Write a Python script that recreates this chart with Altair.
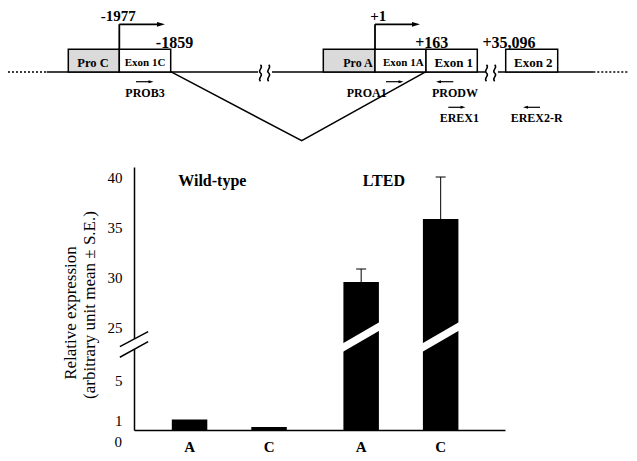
import altair as alt
import pandas as pd

# ------------------------------------------------------------------
# Bar chart data (relative expression, arbitrary units)
# ------------------------------------------------------------------
groups = ["Wild-type", "Wild-type", "LTED", "LTED"]
promoters = ["A", "C", "A", "C"]
expression = [1.05, 0.3, 29.5, 35.8]
se_upper = [0.0, 0.0, 1.3, 4.2]
group_order = ["Wild-type", "LTED"]
promoter_order = ["A", "C"]
y_tick_values = [1, 5, 25, 30, 35, 40]
y_top_value = 41.0

# broken y axis: values between BREAK_FROM and BREAK_FROM+AXIS_GAP are cut out
BREAK_FROM = 8.0
AXIS_GAP = 14.7
BAR_BREAK_AT = 24.0      # where the white slash crosses the tall bars (original units)
AXIS_BREAK_AT = 23.27    # where the // marks cross the y axis (original units)
GROUP_LABEL_AT = 39.6


def shown(v):
    return v if v <= BREAK_FROM else v - AXIS_GAP


bars_df = pd.DataFrame({
    "group": groups,
    "promoter": promoters,
    "value": expression,
    "top_d": [shown(v) for v in expression],
    "err_d": [shown(v + s) for v, s in zip(expression, se_upper)],
    "se": se_upper,
})
err_df = bars_df[bars_df["se"] > 0]
brk_df = bars_df[bars_df["value"] > BREAK_FROM].assign(brk=shown(BAR_BREAK_AT))
glab_df = pd.DataFrame({"group": group_order, "ly": [shown(GROUP_LABEL_AT)] * 2})
axbrk_df = pd.DataFrame({"ab": [shown(AXIS_BREAK_AT)]})

# ------------------------------------------------------------------
# Gene schematic (layout units)
# ------------------------------------------------------------------
MAIN_Y = 64.0
BOX_TOP = 41.3
seg_solid_x1 = [38.7, 264.0, 490.0]
seg_solid_x2 = [250.0, 477.0, 585.3]
seg_dot_x1 = [0.0, 585.3]
seg_dot_x2 = [38.7, 621.0]

box_names = ["Pro C", "Exon 1C", "Pro A", "Exon 1A", "Exon 1", "Exon 2"]
box_x1 = [60.3, 111.3, 315.3, 367.0, 418.0, 497.7]
box_x2 = [111.3, 162.7, 367.0, 418.0, 469.3, 549.7]
box_fill = ["#dadada", "white", "#dadada", "white", "white", "white"]
box_label_x = [85.0, 137.0, 350.0, 395.3, 445.8, 525.3]
box_label_size = [12.5, 11, 12, 11, 13, 13]

pos_labels = ["-1977", "-1859", "+1", "+163", "+35,096"]
pos_x = [110.3, 166.5, 370.3, 423.7, 501.0]
pos_y = [7.8, 34.7, 7.8, 34.7, 34.7]
pos_size = [15, 16, 15, 16, 16]

# transcription start arrows (bent)
tss_x = [111.3, 367.0]
tss_y = 16.3
tss_end = [150.0, 405.0]
tss_head = [153.0, 408.0]

primer_names = ["PROB3", "PROA1", "PRODW", "EREX1", "EREX2-R"]
primer_x1 = [128.0, 378.0, 445.3, 440.3, 532.0]
primer_x2 = [143.0, 393.0, 430.5, 455.0, 517.5]
primer_dir = ["right", "right", "left", "right", "left"]
primer_y = [73.7, 73.7, 73.7, 99.3, 99.3]
primer_label_x = [137.0, 358.7, 447.0, 451.3, 528.7]
primer_label_y = [84.7, 84.7, 84.7, 110.3, 110.3]

splice_x = [162.7, 293.7, 418.0]
splice_y = [63.7, 132.7, 63.7]

wiggle_x = [257.0, 483.0]

# ------------------------------------------------------------------
SERIF = "Liberation Serif"
W, H = 371, 263

S_x = alt.Scale(domain=group_order, paddingInner=0, paddingOuter=0.081, align=0.342)
S_xo = alt.Scale(domain=promoter_order, paddingInner=0.5535, paddingOuter=0.356)
S_y = alt.Scale(domain=[0, shown(y_top_value)], nice=False, zero=False)

x_axis = alt.Axis(labels=False, ticks=False, title=None, grid=False,
                  domainColor="black", domainWidth=1.5, zindex=0)
y_axis = alt.Axis(values=[shown(v) for v in y_tick_values],
                  labelExpr=f"datum.value > {BREAK_FROM} ? format(datum.value + {AXIS_GAP}, '.0f') : format(datum.value, '.0f')",
                  ticks=False, grid=False, title=None, domainColor="black", domainWidth=1.5,
                  labelFont=SERIF, labelFontSize=15, labelColor="black", labelPadding=12, zindex=0)

X = alt.X("group:N", scale=S_x, axis=x_axis)
XO = alt.XOffset("promoter:N", scale=S_xo)

bars = alt.Chart(bars_df).mark_bar(color="black").encode(
    x=X, xOffset=XO, y=alt.Y("top_d:Q", scale=S_y, axis=y_axis))

err = alt.Chart(err_df).mark_rule(color="black", strokeWidth=1).encode(
    x=X, xOffset=XO, y=alt.Y("top_d:Q", scale=S_y, axis=y_axis), y2="err_d:Q")

cap = alt.Chart(err_df).mark_tick(color="black", thickness=1, size=10, opacity=1).encode(
    x=X, xOffset=XO, y=alt.Y("err_d:Q", scale=S_y, axis=y_axis))

BAR_SLASH = "M -1 0.39 L 1 -0.776 L 1 -0.39 L -1 0.776 Z"
brk = alt.Chart(brk_df).mark_point(shape=BAR_SLASH, size=1936, filled=True, color="white",
                                   opacity=1, strokeWidth=0).encode(
    x=X, xOffset=XO, y=alt.Y("brk:Q", scale=S_y, axis=y_axis))

xlab = alt.Chart(bars_df).mark_text(font=SERIF, fontWeight="bold", fontSize=15,
                                     baseline="middle", color="black").encode(
    x=X, xOffset=XO, y=alt.value(H + 16.5), text="promoter:N")

glab = alt.Chart(glab_df).mark_text(font=SERIF, fontWeight="bold", fontSize=16, dx=-17,
                                     baseline="middle", color="black").encode(
    x=X, y=alt.Y("ly:Q", scale=S_y, axis=y_axis), text="group:N")

AX_FILL = "M -0.884 0.147 L 0.884 -0.79 L 0.884 -0.166 L -0.884 0.81 Z"
AX_LINES = "M -0.884 0.147 L 0.884 -0.79 M -0.884 0.81 L 0.884 -0.166"
axbrk_fill = alt.Chart(axbrk_df).mark_point(shape=AX_FILL, size=1024, filled=True, color="white",
                                            opacity=1, strokeWidth=0).encode(
    x=alt.value(0), y=alt.Y("ab:Q", scale=S_y, axis=y_axis))
axbrk_lines = alt.Chart(axbrk_df).mark_point(shape=AX_LINES, size=1024, filled=False, color="black",
                                             opacity=1, strokeWidth=1.5).encode(
    x=alt.value(0), y=alt.Y("ab:Q", scale=S_y, axis=y_axis))

zero_lab = alt.Chart(pd.DataFrame({"t": ["0"]})).mark_text(
    font=SERIF, fontSize=15, align="right", baseline="middle", color="black").encode(
    x=alt.value(-12), y=alt.value(H + 11.7), text="t:N")

ytitle = alt.Chart(pd.DataFrame({
    "t": ["Relative expression", "(arbitrary unit mean ± S.E.)"],
    "px": [-63, -44], "py": [146, 138]})).mark_text(
    font=SERIF, fontSize=17, angle=270, align="center", baseline="middle", color="black").encode(
    x=alt.X("px:Q", scale=None), y=alt.Y("py:Q", scale=None), text="t:N")

bar_part = alt.layer(bars, err, cap, brk, xlab, glab, axbrk_fill, axbrk_lines, zero_lab, ytitle)

# ---------------- schematic layers ----------------
DX = alt.Scale(domain=[126, 497], nice=False, zero=False)
DY = alt.Scale(domain=[159, 422], reverse=True, nice=False, zero=False)


def dx(f):
    return alt.X(f, scale=DX, axis=None)


def dy(f):
    return alt.Y(f, scale=DY, axis=None)


solid_df = pd.DataFrame({"x1": seg_solid_x1, "x2": seg_solid_x2, "y": [MAIN_Y] * 3})
dot_df = pd.DataFrame({"x1": seg_dot_x1, "x2": seg_dot_x2, "y": [MAIN_Y] * 2})
solid = alt.Chart(solid_df).mark_rule(color="black", strokeWidth=1.5).encode(
    x=dx("x1:Q"), x2="x2:Q", y=dy("y:Q"))
dotted = alt.Chart(dot_df).mark_rule(color="black", strokeWidth=1.3, strokeDash=[2, 2]).encode(
    x=dx("x1:Q"), x2="x2:Q", y=dy("y:Q"))

box_df = pd.DataFrame({"name": box_names, "x1": box_x1, "x2": box_x2, "fill": box_fill,
                       "y1": [BOX_TOP] * 6, "y2": [MAIN_Y] * 6})
boxes = alt.Chart(box_df).mark_rect(stroke="black", strokeWidth=1.5).encode(
    x=dx("x1:Q"), x2="x2:Q", y=dy("y1:Q"), y2="y2:Q", fill=alt.Fill("fill:N", scale=None))

splice_df = pd.DataFrame({"x": splice_x, "y": splice_y, "i": [0, 1, 2]})
splice = alt.Chart(splice_df).mark_line(color="black", strokeWidth=1.5).encode(
    x=dx("x:Q"), y=dy("y:Q"), order="i:Q")

tss_v = pd.DataFrame({"x": tss_x, "y1": [BOX_TOP] * 2, "y2": [tss_y] * 2})
tss_h = pd.DataFrame({"x1": tss_x, "x2": tss_end, "y": [tss_y] * 2})
tss_vr = alt.Chart(tss_v).mark_rule(color="black", strokeWidth=1.8).encode(
    x=dx("x:Q"), y=dy("y1:Q"), y2="y2:Q")
tss_hr = alt.Chart(tss_h).mark_rule(color="black", strokeWidth=1.8).encode(
    x=dx("x1:Q"), x2="x2:Q", y=dy("y:Q"))

prim_df = pd.DataFrame({"x1": primer_x1, "x2": primer_x2, "y": primer_y})
prim = alt.Chart(prim_df).mark_rule(color="black", strokeWidth=1.2).encode(
    x=dx("x1:Q"), x2="x2:Q", y=dy("y:Q"))

HEAD_R = "M -1 -0.6 L 1 0 L -1 0.6 Z"
HEAD_L = "M 1 -0.6 L -1 0 L 1 0.6 Z"
heads_r_df = pd.DataFrame({
    "x": tss_head + [x for x, d in zip(primer_x2, primer_dir) if d == "right"],
    "y": [tss_y] * 2 + [y for y, d in zip(primer_y, primer_dir) if d == "right"],
    "s": [64, 64] + [25] * sum(d == "right" for d in primer_dir)})
heads_l_df = pd.DataFrame({
    "x": [x for x, d in zip(primer_x2, primer_dir) if d == "left"],
    "y": [y for y, d in zip(primer_y, primer_dir) if d == "left"],
    "s": [25] * sum(d == "left" for d in primer_dir)})
heads_r = alt.Chart(heads_r_df).mark_point(shape=HEAD_R, filled=True, color="black", opacity=1,
                                           strokeWidth=0).encode(
    x=dx("x:Q"), y=dy("y:Q"), size=alt.Size("s:Q", scale=None))
heads_l = alt.Chart(heads_l_df).mark_point(shape=HEAD_L, filled=True, color="black", opacity=1,
                                           strokeWidth=0).encode(
    x=dx("x:Q"), y=dy("y:Q"), size=alt.Size("s:Q", scale=None))

WIGGLE = ("M -0.55 -1 C -0.1 -0.6 -1 -0.35 -0.55 0 C -0.1 0.35 -1 0.6 -0.55 1 "
          "M 0.45 -1 C 0.9 -0.6 0 -0.35 0.45 0 C 0.9 0.35 0 0.6 0.45 1")
wig_df = pd.DataFrame({"x": wiggle_x, "y": [MAIN_Y + 1] * 2})
wiggles = alt.Chart(wig_df).mark_point(shape=WIGGLE, size=270, filled=False, color="black",
                                       opacity=1, strokeWidth=1.5).encode(
    x=dx("x:Q"), y=dy("y:Q"))

text_df = pd.DataFrame({
    "t": box_names + pos_labels + primer_names,
    "x": box_label_x + pos_x + primer_label_x,
    "y": [55.0] * 6 + pos_y + primer_label_y,
    "fs": box_label_size + pos_size + [12] * 5,
})
texts = alt.Chart(text_df).mark_text(font=SERIF, fontWeight="bold", baseline="middle",
                                     align="center", color="black").encode(
    x=dx("x:Q"), y=dy("y:Q"), text="t:N", size=alt.Size("fs:Q", scale=None))

diag_part = alt.layer(splice, solid, dotted, boxes, tss_vr, tss_hr, prim, heads_r, heads_l,
                      wiggles, texts)

chart = alt.layer(bar_part, diag_part).resolve_scale(
    x="independent", y="independent"
).properties(
    width=W, height=H,
    padding={"left": 126, "top": 159, "right": 124, "bottom": 23},
    autosize="none",
).configure_view(stroke=None)

chart.save("out.html", embed_options={"renderer": "svg", "actions": False})
